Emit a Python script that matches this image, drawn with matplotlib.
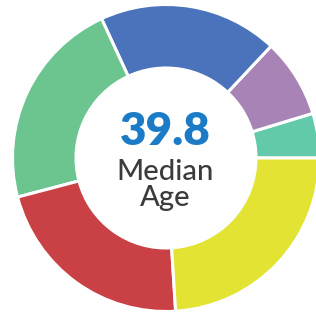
import matplotlib
matplotlib.use("Agg")
import matplotlib.pyplot as plt

shares = [4.7, 8.3, 18.9, 22.2, 21.9, 24.0]
colors = ["#62c9ab", "#a884b6", "#4a73bc", "#6cc48f", "#c94145", "#e2e333"]
median_age = "39.8"
labels = ["Median", "Age"]

fig = plt.figure(figsize=(3.16, 3.16), dpi=100)
ax = fig.add_axes([0, 0, 1, 1])
ax.set_xlim(0, 316)
ax.set_ylim(0, 316)
ax.set_aspect("equal")
ax.axis("off")

R = 153.5
ax.pie(shares, colors=colors, startangle=0, counterclock=True,
       center=(166, 158), radius=R,
       wedgeprops=dict(width=R - 90, edgecolor="white", linewidth=2.2))
ax.set_xlim(0, 316)
ax.set_ylim(0, 316)

ax.text(165, 171, median_age, ha="center", va="baseline", color="#1b7bc6",
        fontsize=33, fontweight="heavy", family="Lato")
ax.text(165, 136, labels[0], ha="center", va="baseline", color="#3b3b3b",
        fontsize=21, fontweight="medium", family="Lato")
ax.text(165, 110, labels[1], ha="center", va="baseline", color="#3b3b3b",
        fontsize=21, fontweight="medium", family="Lato")

fig.savefig("out.png", dpi=100)
